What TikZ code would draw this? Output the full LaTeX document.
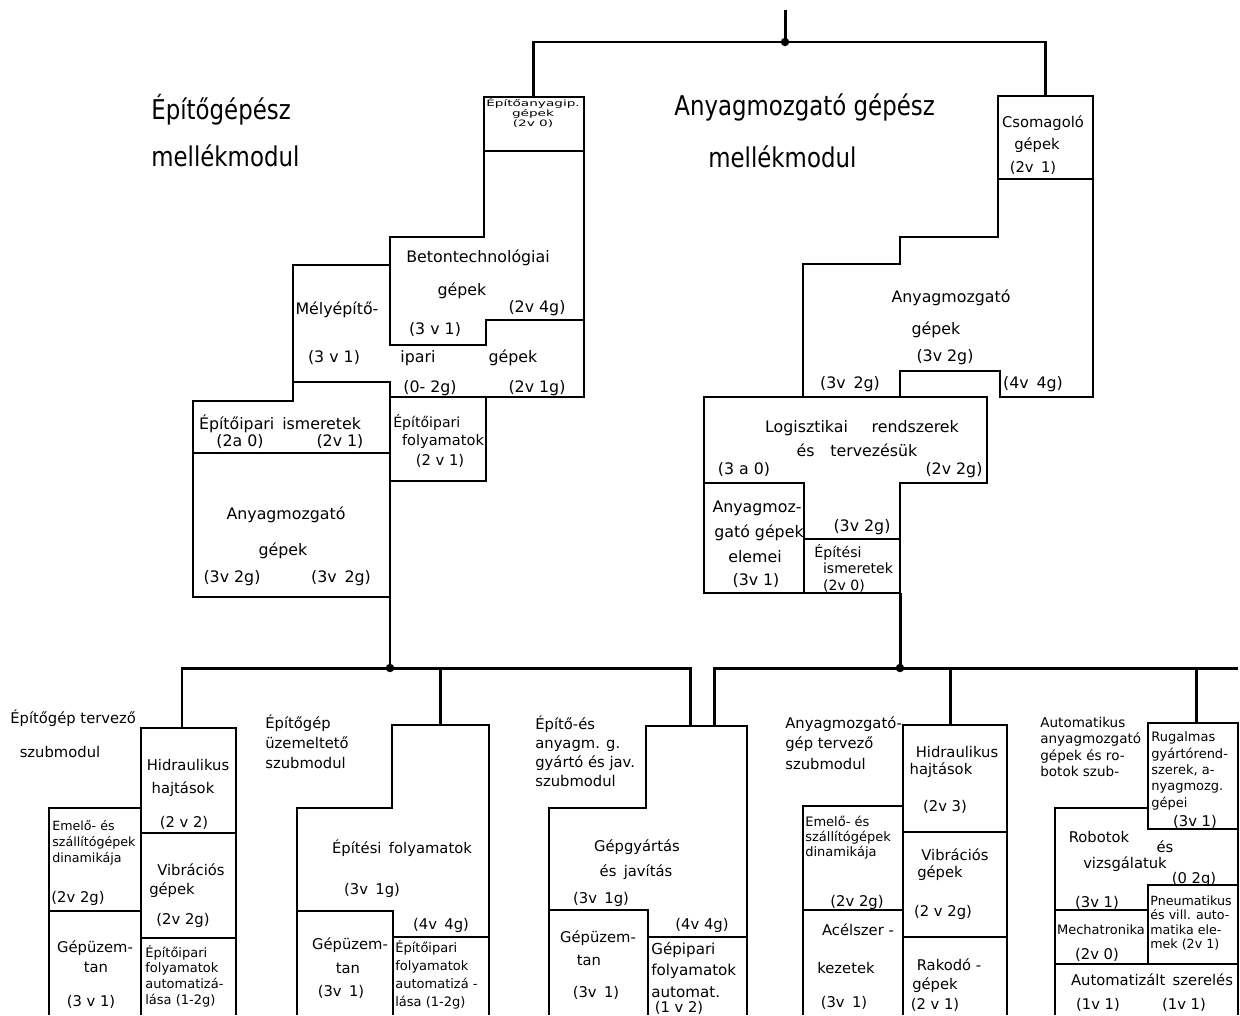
\documentclass[tikz,border=0pt]{standalone}
\usepackage{fontspec}
\setmainfont{DejaVu Sans}
\newfontfamily\ttlfont{DejaVu Sans}[FakeStretch=0.84]
\newfontfamily\widefont{DejaVu Sans}[FakeStretch=1.55]
\begin{document}
\begin{tikzpicture}[x=0.02cm,y=-0.02cm,
  box/.style={line width=1.6pt,line join=miter},
  conn/.style={line width=1.7pt},
  up/.style={inner sep=0pt,font=\fontsize{9}{11}\selectfont},
  lo/.style={inner sep=0pt,font=\fontsize{8.4}{10}\selectfont},
  sm/.style={inner sep=0pt,font=\fontsize{7.4}{9}\selectfont},
  ttl/.style={inner sep=0pt,anchor=west,font=\ttlfont\fontsize{15.5}{17}\selectfont}]
\useasboundingbox (0,0) rectangle (1240,1015);

% ---------------- connectors ----------------
\coordinate (top0) at (785,10);
\coordinate (topj) at (785,42);
\coordinate (eatop) at (533,97);
\coordinate (csotop) at (1045,96);
\draw[conn] (top0) -- (topj);
\draw[conn] (eatop) |- (topj) -| (csotop);
\fill (topj) circle[radius=2.4pt];

\coordinate (lamb) at (390,597);
\coordinate (lj) at (390,668);
\coordinate (m1top) at (182,728);
\coordinate (m2top) at (440,725);
\coordinate (m2j) at (440,668);
\coordinate (m3topa) at (690,726);
\draw[conn] (lamb) -- (lj);
\draw[conn] (m1top) |- (lj) -| (m3topa);
\draw[conn] (m2j) -- (m2top);
\fill (lj) circle[radius=2.4pt];

\coordinate (ramb) at (900,593);
\coordinate (rj) at (900,668);
\coordinate (m3topb) at (714,726);
\coordinate (m4top) at (950,725);
\coordinate (m4j) at (950,668);
\coordinate (m5top) at (1196,723);
\coordinate (m5j) at (1196,668);
\coordinate (rend) at (1238,668);
\draw[conn] (ramb) -- (rj);
\draw[conn] (m3topb) |- (rj) -- (rend);
\draw[conn] (m4j) -- (m4top);
\draw[conn] (m5j) -- (m5top);
\fill (rj) circle[radius=2.4pt];

% ---------------- titles ----------------
\node[ttl] (t1a) at (151,110) {Építőgépész};
\node[ttl] (t1b) at (151,156) {mellékmodul};
\node[ttl] (t2a) at (674,107) {Anyagmozgató gépész};
\node[ttl] (t2b) at (708,157) {mellékmodul};

% ---------------- upper left block ----------------
\draw[box] (484,97) rectangle (584,151);
\draw[box] (484,151) -- (584,151) -- (584,320) -- (486,320) -- (486,345) -- (390,345) -- (390,237) -- (484,237) -- cycle;
\draw[box] (293,265) -- (390,265) -- (390,345) -- (486,345) -- (486,320) -- (584,320) -- (584,397) -- (390,397) -- (390,382) -- (293,382) -- cycle;
\draw[box] (193,401) -- (293,401) -- (293,382) -- (390,382) -- (390,453) -- (193,453) -- cycle;
\draw[box] (193,453) rectangle (390,597);
\draw[box] (390,397) rectangle (486,481);

\node[inner sep=0pt,align=center,font=\widefont\fontsize{5}{4.8}\selectfont] (ea) at (533,113) {Építőanyagip.\\gépek\\(2v 0)};
\node[up] (bt1) at (478,258) {Betontechnológiai};
\node[up] (bt2) at (462,291) {gépek};
\node[up] (bt3) at (537,308) {(2v 4g)};
\node[up] (bt4) at (435,330) {(3 v 1)};
\node[up] (me1) at (337,310) {Mélyépítő-};
\node[up] (me2) at (334,358) {(3 v 1)};
\node[up] (me3) at (418,358) {ipari};
\node[up] (me4) at (513,358) {gépek};
\node[up] (me5) at (430,388) {(0- 2g)};
\node[up] (me6) at (537,388) {(2v 1g)};
\node[up] (ii1) at (280,424) {Építőipari\enspace ismeretek};
\node[up] (ii2) at (240,442) {(2a 0)};
\node[up] (ii3) at (340,442) {(2v 1)};
\node[lo,anchor=west,font=\fontsize{8}{10}\selectfont] (ef1) at (393,422) {Építőipari};
\node[lo,font=\fontsize{8.3}{10}\selectfont] (ef2) at (443,441) {folyamatok};
\node[lo] (ef3) at (440,461) {(2 v 1)};
\node[up] (la1) at (286,515) {Anyagmozgató};
\node[up] (la2) at (283,551) {gépek};
\node[up] (la3) at (232,578) {(3v 2g)};
\node[up] (la4) at (341,578) {(3v\enspace 2g)};

% ---------------- upper right block ----------------
\draw[box] (998,96) rectangle (1093,179);
\draw[box] (998,179) -- (1093,179) -- (1093,397) -- (1000,397) -- (1000,371) -- (900,371) -- (900,397) -- (803,397) -- (803,264) -- (900,264) -- (900,237) -- (998,237) -- cycle;
\draw[box] (704,397) -- (987,397) -- (987,483) -- (900,483) -- (900,539) -- (804,539) -- (804,483) -- (704,483) -- cycle;
\draw[box] (704,483) rectangle (804,593);
\draw[box] (804,539) rectangle (900,593);

\node[lo] (cs1) at (1043,123) {Csomagoló};
\node[lo] (cs2) at (1037,145) {gépek};
\node[lo] (cs3) at (1033,168) {(2v\enspace 1)};
\node[up] (ra1) at (951,298) {Anyagmozgató};
\node[up] (ra2) at (936,330) {gépek};
\node[up] (ra3) at (945,357) {(3v 2g)};
\node[up] (ra4) at (850,384) {(3v\enspace 2g)};
\node[up] (ra5) at (1033,384) {(4v\enspace 4g)};
\node[up] (lg1) at (862,428) {Logisztikai\quad\enspace rendszerek};
\node[up] (lg2) at (857,450) {és\quad tervezésük};
\node[up] (lg3) at (744,470) {(3 a 0)};
\node[up] (lg4) at (954,470) {(2v 2g)};
\node[up] (ae1) at (757,508) {Anyagmoz-};
\node[up] (ae2) at (759,533) {gató gépek};
\node[up] (ae3) at (755,557) {elemei};
\node[up] (ae4) at (756,581) {(3v 1)};
\node[up] (lg5) at (862,527) {(3v 2g)};
\node[sm,font=\fontsize{8}{9}\selectfont] (ei1) at (838,552) {Építési};
\node[sm,font=\fontsize{8}{9}\selectfont] (ei2) at (858,568) {ismeretek};
\node[sm,font=\fontsize{8}{9}\selectfont] (ei3) at (844,586) {(2v 0)};

% ---------------- module 1 ----------------
\draw[box] (141,728) rectangle (236,833);
\draw[box] (141,833) rectangle (236,938);
\draw[box] (141,1015) -- (141,938) -- (236,938) -- (236,1015);
\draw[box] (49,808) rectangle (141,911);
\draw[box] (49,1015) -- (49,911) -- (141,911);

\node[lo,anchor=west] (m1t1) at (10,718) {Építőgép tervező};
\node[lo] (m1t2) at (60,752) {szubmodul};
\node[lo] (h1a) at (188,765) {Hidraulikus};
\node[lo] (h1b) at (183,789) {hajtások};
\node[lo] (h1c) at (184,823) {(2 v 2)};
\node[lo] (v1a) at (191,870) {Vibrációs};
\node[lo] (v1b) at (172,890) {gépek};
\node[lo] (v1c) at (183,920) {(2v 2g)};
\node[sm,anchor=west,align=left,font=\fontsize{7.4}{8.9}\selectfont] (ea1) at (145,976) {Építőipari\\folyamatok\\automatizá-\\lása (1-2g)};
\node[sm,anchor=west,align=left,font=\fontsize{7.2}{9.2}\selectfont] (em1) at (52,843) {Emelő- és\\szállítógépek\\dinamikája};
\node[lo] (em1b) at (78,898) {(2v 2g)};
\node[lo] (gu1a) at (95,948) {Gépüzem-};
\node[lo] (gu1b) at (96,967) {tan};
\node[lo] (gu1c) at (91,1002) {(3 v 1)};

% ---------------- module 2 ----------------
\draw[box] (392,725) -- (489,725) -- (489,937) -- (393,937) -- (393,911) -- (297,911) -- (297,808) -- (392,808) -- cycle;
\draw[box] (297,911) -- (297,1015);
\draw[box] (393,911) -- (393,1015);
\draw[box] (393,937) -- (489,937) -- (489,1015);

\node[lo,anchor=west,align=left,font=\fontsize{8.4}{11.3}\selectfont] (m2t) at (265,742) {Építőgép\\üzemeltető\\szubmodul};
\node[lo] (es1) at (402,848) {Építési\enspace folyamatok};
\node[lo] (es2) at (372,890) {(3v\enspace 1g)};
\node[lo] (es3) at (441,925) {(4v\enspace 4g)};
\node[lo] (gu2a) at (350,945) {Gépüzem-};
\node[lo] (gu2b) at (348,968) {tan};
\node[lo] (gu2c) at (341,992) {(3v\enspace 1)};
\node[sm,anchor=west,align=left,font=\fontsize{7.4}{10.2}\selectfont] (ea2) at (395,975) {Építőipari\\folyamatok\\automatizá -\\lása (1-2g)};

% ---------------- module 3 ----------------
\draw[box] (646,726) -- (747,726) -- (747,937) -- (648,937) -- (648,910) -- (549,910) -- (549,808) -- (646,808) -- cycle;
\draw[box] (549,910) -- (549,1015);
\draw[box] (648,910) -- (648,1015);
\draw[box] (648,937) -- (747,937) -- (747,1015);

\node[lo,anchor=west,align=left,font=\fontsize{8.4}{10.8}\selectfont] (m3t) at (535,751) {Építő-és\\anyagm. g.\\gyártó és jav.\\szubmodul};
\node[lo] (gg1) at (637,847) {Gépgyártás};
\node[lo] (gg2) at (636,872) {és\enspace javítás};
\node[lo] (gg3) at (601,899) {(3v\enspace 1g)};
\node[lo] (gg4) at (702,925) {(4v 4g)};
\node[lo] (gu3a) at (598,938) {Gépüzem-};
\node[lo] (gu3b) at (589,960) {tan};
\node[lo] (gu3c) at (596,993) {(3v\enspace 1)};
\node[lo,anchor=west,align=left,font=\fontsize{8.6}{12.3}\selectfont] (gp1) at (651,970) {Gépipari\\folyamatok\\automat.};
\node[lo] (gp2) at (679,1008) {(1 v 2)};

% ---------------- module 4 ----------------
\draw[box] (903,725) rectangle (1007,832);
\draw[box] (903,832) rectangle (1007,937);
\draw[box] (903,1015) -- (903,937) -- (1007,937) -- (1007,1015);
\draw[box] (803,806) rectangle (903,910);
\draw[box] (803,1015) -- (803,910) -- (903,910);

\node[lo,anchor=west,align=left,font=\fontsize{8.4}{11.6}\selectfont] (m4t) at (785,743) {Anyagmozgató-\\gép tervező\\szubmodul};
\node[lo] (h4a) at (957,752) {Hidraulikus};
\node[lo] (h4b) at (941,770) {hajtások};
\node[lo] (h4c) at (945,807) {(2v 3)};
\node[lo] (v4a) at (955,855) {Vibrációs};
\node[lo] (v4b) at (940,873) {gépek};
\node[lo] (v4c) at (943,912) {(2 v 2g)};
\node[lo] (r4a) at (949,965) {Rakodó -};
\node[lo] (r4b) at (935,985) {gépek};
\node[lo] (r4c) at (935,1005) {(2 v 1)};
\node[sm,anchor=west,align=left,font=\fontsize{7.4}{8.6}\selectfont] (em4) at (805,838) {Emelő- és\\szállítógépek\\dinamikája};
\node[lo] (em4b) at (857,902) {(2v 2g)};
\node[lo] (ac1) at (858,930) {Acélszer -};
\node[lo] (ac2) at (846,968) {kezetek};
\node[lo] (ac3) at (844,1003) {(3v\enspace 1)};

% ---------------- module 5 ----------------
\draw[box] (1148,723) rectangle (1238,829);
\draw[box] (1055,808) -- (1148,808) -- (1148,829) -- (1238,829) -- (1238,885) -- (1148,885) -- (1148,910) -- (1055,910) -- cycle;
\draw[box] (1055,910) rectangle (1148,964);
\draw[box] (1148,885) rectangle (1238,964);
\draw[box] (1055,1015) -- (1055,964) -- (1238,964) -- (1238,1015);

\node[lo,anchor=west,align=left,font=\fontsize{7.7}{9.2}\selectfont] (m5t) at (1040,747) {Automatikus\\anyagmozgató\\gépek és ro-\\botok szub-};
\node[sm,anchor=west,align=left,font=\fontsize{7.4}{9.3}\selectfont] (rg1) at (1151,771) {Rugalmas\\gyártórend-\\szerek, a-\\nyagmozg.\\gépei};
\node[lo] (rg2) at (1195,822) {(3v 1)};
\node[lo] (rb1) at (1099,837) {Robotok};
\node[lo] (rb2) at (1165,847) {és};
\node[lo] (rb3) at (1125,864) {vizsgálatuk};
\node[lo] (rb4) at (1194,879) {(0 2g)};
\node[lo] (rb5) at (1097,903) {(3v 1)};
\node[sm,anchor=west,align=left,font=\fontsize{7.2}{8.1}\selectfont] (pn1) at (1150,923) {Pneumatikus\\és vill. auto-\\matika ele-\\mek (2v 1)};
\node[sm] (mc1) at (1101,930) {Mechatronika};
\node[lo] (mc2) at (1097,955) {(2v 0)};
\node[lo] (as1) at (1152,980) {Automatizált\enspace szerelés};
\node[lo] (as2) at (1098,1005) {(1v 1)};
\node[lo] (as3) at (1184,1005) {(1v 1)};
\end{tikzpicture}
\end{document}
